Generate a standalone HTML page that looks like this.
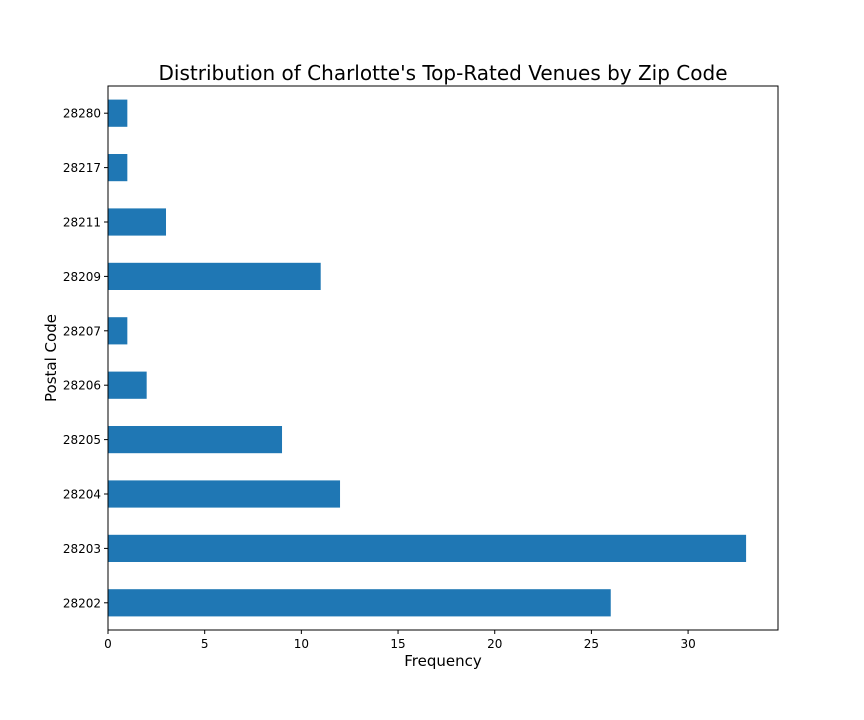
<!DOCTYPE html>
<html><head><meta charset="utf-8"><style>
body{margin:0;background:#fff;}
svg{display:block;font-family:"DejaVu Sans","Liberation Sans",sans-serif;}
</style></head><body>
<svg id="chart" width="864" height="720" viewBox="0 0 864 720">
<rect width="864" height="720" fill="#fff"/>
<text x="443" y="80" font-size="20" text-anchor="middle">Distribution of Charlotte's Top-Rated Venues by Zip Code</text>
<g id="bars"></g>
<g id="xticks"></g>
<g id="yticks"></g>
<rect x="108" y="86" width="670" height="544" fill="none" stroke="#000" stroke-width="1"/>
<text x="443" y="666" font-size="15" text-anchor="middle">Frequency</text>
<text transform="translate(56,358) rotate(-90)" font-size="15" text-anchor="middle">Postal Code</text>
</svg>
<script>
const categories=["28202","28203","28204","28205","28206","28207","28209","28211","28217","28280"];
const values=[26,33,12,9,2,1,11,3,1,1];
const xTicks=[0,5,10,15,20,25,30];
const L=108,R=778,T=86,B=630,xMax=34.65;
const NS="http://www.w3.org/2000/svg";
const xs=v=>L+v/xMax*(R-L);
const step=(B-T)/categories.length;
const ys=i=>B-(i+0.5)*step;
function mk(tag,attrs,parent){const e=document.createElementNS(NS,tag);for(const k in attrs)e.setAttribute(k,attrs[k]);parent.appendChild(e);return e;}
const gb=document.getElementById('bars'),gx=document.getElementById('xticks'),gy=document.getElementById('yticks');
categories.forEach((c,i)=>{
  const r=mk('rect',{x:xs(0),y:ys(i)-step*0.25,width:xs(values[i])-xs(0),height:step*0.5,fill:'#1f77b4'},gb);
  
  
  const t=mk('line',{x1:L-4,x2:L,y1:ys(i),y2:ys(i),stroke:'#000'},gy);
  
  
  const l=mk('text',{x:L-7,y:ys(i)+4.5,'font-size':12,'text-anchor':'end'},gy);
  l.textContent=c;
  
  
});
xTicks.forEach(v=>{
  const t=mk('line',{x1:xs(v),x2:xs(v),y1:B,y2:B+4,stroke:'#000'},gx);
  
  
  const l=mk('text',{x:xs(v),y:B+18,'font-size':12,'text-anchor':'middle'},gx);
  l.textContent=v;
  
  
});
</script>
</body></html>
